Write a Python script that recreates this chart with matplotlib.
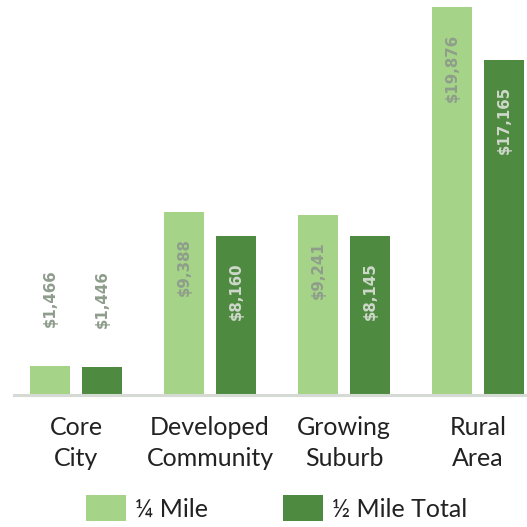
import matplotlib.pyplot as plt
import numpy as np
from matplotlib.patches import Patch

# Cost per area type, quarter mile vs half mile total
categories = ["Core\nCity", "Developed\nCommunity", "Growing\nSuburb", "Rural\nArea"]
quarter_mile = [1466, 9388, 9241, 19876]
half_mile = [1446, 8160, 8145, 17165]
series_names = ["¼ Mile", "½ Mile Total"]

light_green = "#a5d387"
dark_green = "#4e8a3f"
font = "Lato"
label_font = "DejaVu Sans"

fig = plt.figure(figsize=(5.27, 5.27), dpi=100)
ax = fig.add_axes([14 / 527, 132 / 527, 513 / 527, 395 / 527])

x = np.arange(len(categories))
width = 0.2985
offset = 0.194

bars1 = ax.bar(x - offset, quarter_mile, width, color=light_green)
bars2 = ax.bar(x + offset, half_mile, width, color=dark_green)

ax.set_xlim(-0.463, 3.366)
ax.set_ylim(0, 19876 * 395 / 388)

# value labels: above small bars, inside the top of tall ones
for bars, vals, inside_color in [(bars1, quarter_mile, "#8f9d8c"), (bars2, half_mile, "#cfd8cb")]:
    for b, v in zip(bars, vals):
        cx = b.get_x() + b.get_width() / 2
        label = "${:,}".format(v)
        if v < 3000:
            ax.annotate(label, (cx, v), xytext=(0, 28), textcoords="offset points",
                        rotation=90, ha="center", va="bottom", fontsize=10.8,
                        fontweight="bold", color="#8f9d8c", family=label_font)
        else:
            ax.annotate(label, (cx, v), xytext=(0, -19), textcoords="offset points",
                        rotation=90, ha="center", va="top", fontsize=10.8,
                        fontweight="bold", color=inside_color, family=label_font)

for s in ["top", "right", "left"]:
    ax.spines[s].set_visible(False)
ax.spines["bottom"].set_color("#d5dad4")
ax.spines["bottom"].set_linewidth(2.2)
ax.set_yticks([])
ax.set_xticks(x)
ax.set_xticklabels(categories, fontsize=18, family=font, color="#222222", linespacing=1.45)
ax.tick_params(axis="x", length=0, pad=15)

handles = [Patch(facecolor=light_green), Patch(facecolor=dark_green)]
leg = fig.legend(handles, series_names, loc="lower center", bbox_to_anchor=(0.525, -0.032),
                 ncol=2, frameon=False, handlelength=1.6, handleheight=1.25,
                 handletextpad=0.35, columnspacing=3.0, prop={"family": font, "size": 18})
for t in leg.get_texts():
    t.set_color("#222222")

fig.savefig("out.png", dpi=100)
